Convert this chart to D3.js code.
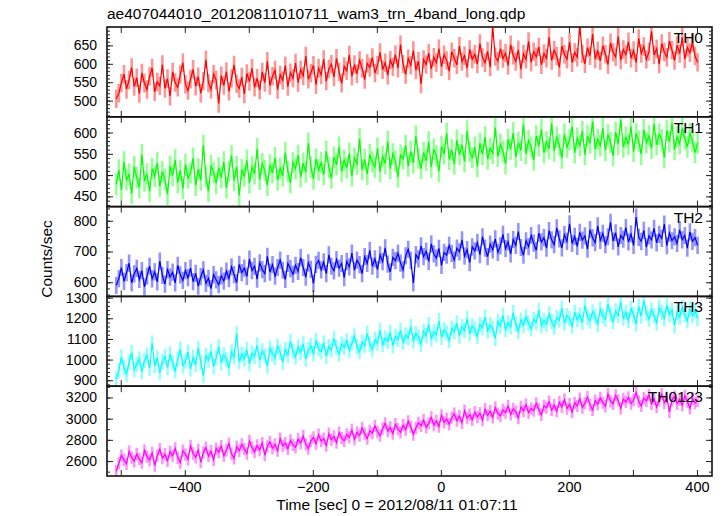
<!DOCTYPE html>
<html><head><meta charset="utf-8">
<script src="https://cdn.jsdelivr.net/npm/d3@7"></script>
<style>body{margin:0;background:#fff} text{font-family:"Liberation Sans",Arial,Helvetica,sans-serif;fill:#000}</style>
</head><body><svg id="c" width="723" height="516"></svg>
<script>
const chartTitle = "ae407044010_20120811010711_wam3_trn_4band_long.qdp";
const xLabel = "Time [sec] 0 = 2012/08/11 01:07:11";
const yLabel = "Counts/sec";
const bandNames = ["TH0", "TH1", "TH2", "TH3", "TH0123"];
const bandColors = ["#ff0000", "#00ff00", "#0000ff", "#00ffff", "#ff00ff"];
const timeStart = -507, binSize = 4;

const th0 = [505,520,548,572,531,556,590,538,562,519,
 575,547,530,566,589,524,551,540,598,533,
 560,512,578,549,536,571,603,544,527,558,
 585,539,565,520,553,611,548,530,572,556,
 492,568,541,579,525,560,597,546,533,564,
 518,574,552,588,536,561,529,578,549,607,
 541,566,583,530,570,555,595,538,576,561,
 602,549,584,567,621,558,575,596,543,588,
 570,612,553,586,599,564,615,578,547,593,
 581,624,566,598,573,609,588,557,601,590,
 617,575,596,631,584,603,569,610,592,625,
 588,652,599,571,614,596,636,583,607,545,
 612,598,629,586,618,603,641,592,625,609,
 580,633,615,597,648,606,622,588,639,612,
 626,599,655,617,603,634,591,698,620,607,
 641,614,629,595,652,623,606,638,585,627,
 612,661,604,633,619,646,597,628,615,672,
 609,637,621,590,648,626,612,659,603,631,
 618,702,627,600,644,622,681,613,635,608,
 649,626,598,657,631,619,674,610,639,625,
 660,615,636,603,669,628,647,612,633,688,
 624,641,599,655,632,618,662,637,609,650,
 628,672,613,644,630,658,621,604];

const th1 = [478,512,465,531,489,502,457,520,494,471,
 548,486,503,462,515,497,529,474,508,490,
 455,521,499,536,482,511,468,525,493,505,
 540,476,514,488,570,497,462,523,506,481,
 517,494,531,470,509,546,487,520,452,513,
 498,535,481,519,503,562,490,527,511,476,
 524,505,541,488,516,498,553,509,482,530,
 515,547,496,528,507,575,519,491,538,512,
 529,501,556,518,493,542,524,566,509,535,
 517,551,498,540,526,585,513,537,502,548,
 531,519,563,508,544,527,579,515,550,533,
 496,547,538,570,521,556,529,592,540,515,
 553,534,578,519,561,545,509,567,550,598,
 537,559,526,582,548,571,532,604,555,541,
 566,520,575,549,590,538,563,551,612,544,
 572,556,527,584,561,599,543,576,558,619,
 550,581,566,535,592,569,607,553,578,562,
 621,557,589,571,540,596,565,583,614,552,
 587,570,603,548,592,575,626,561,584,569,
 610,558,595,577,545,601,573,630,566,589,
 572,614,555,598,580,549,607,576,592,563,
 620,571,596,583,541,605,578,622,560,590,
 574,611,585,566,598,580,553,575];

const th2 = [590,612,648,603,631,662,598,627,645,609,
 638,585,620,652,611,634,601,669,622,594,
 641,617,633,598,655,624,606,638,615,646,
 602,629,587,618,640,596,613,579,625,608,
 592,621,604,636,612,650,625,599,658,631,
 646,619,675,638,652,610,663,641,628,684,
 633,657,620,648,672,639,609,661,644,626,
 655,635,680,648,617,663,642,596,658,671,
 640,666,628,689,652,637,674,646,661,615,
 668,650,695,639,672,657,628,683,661,704,
 652,676,641,689,667,712,659,634,681,670,
 695,662,640,686,707,671,598,690,676,718,
 683,701,668,725,692,679,710,655,697,688,
 720,694,672,711,699,738,685,706,664,715,
 702,729,690,748,711,683,724,705,741,697,
 718,756,709,731,692,739,720,765,713,688,
 735,716,752,727,704,760,731,745,711,768,
 738,722,777,741,712,755,733,790,726,749,
 717,762,737,751,708,771,744,729,783,736,
 759,722,748,795,734,761,715,752,740,778,
 731,757,720,812,746,733,769,714,751,738,
 775,728,756,743,789,719,760,735,748,726,
 770,738,752,711,764,733,745,720];

const th3 = [905,948,1012,962,930,987,1034,951,978,1003,
 940,996,1021,958,1080,972,1008,937,989,1015,
 961,1027,984,945,1002,1049,970,993,1036,955,
 1011,976,1054,988,922,1019,997,1040,967,1008,
 1062,985,1023,1001,958,1037,1013,1125,990,1026,
 1004,1047,979,1031,1015,1070,996,1042,1018,968,
 1055,1027,1009,1064,1036,987,1049,1022,1088,1041,
 1013,1061,1035,1076,1002,1048,1067,1029,1093,1052,
 1039,1081,1017,1064,1047,1102,1058,1026,1075,1060,
 1091,1044,1078,1115,1062,1038,1085,1069,1127,1074,
 1051,1096,1080,1143,1072,1104,1088,1132,1067,1112,
 1098,1141,1083,1119,1105,1160,1091,1126,1110,1074,
 1137,1115,1169,1102,1133,1121,1188,1108,1145,1129,
 1092,1152,1136,1177,1114,1160,1140,1198,1125,1163,
 1147,1112,1171,1155,1206,1138,1168,1150,1101,1185,
 1162,1214,1145,1179,1158,1227,1170,1136,1191,1166,
 1208,1175,1149,1196,1180,1238,1164,1190,1172,1221,
 1185,1157,1204,1191,1249,1176,1213,1198,1162,1230,
 1193,1217,1180,1262,1205,1188,1231,1209,1170,1244,
 1211,1196,1268,1220,1183,1236,1214,1280,1201,1229,
 1190,1247,1218,1173,1256,1209,1286,1225,1197,1241,
 1213,1178,1252,1230,1199,1264,1217,1240,1165,1228,
 1206,1253,1219,1187,1245,1214,1236,1200];

const th0123 = [2505,2580,2652,2611,2574,2690,2633,2598,2667,2620,
 2585,2701,2642,2609,2676,2558,2649,2712,2627,2664,
 2603,2688,2651,2720,2630,2585,2697,2662,2616,2743,
 2671,2634,2705,2589,2680,2726,2647,2693,2612,2718,
 2683,2741,2650,2702,2765,2669,2625,2734,2697,2756,
 2712,2671,2789,2728,2684,2747,2703,2770,2655,2739,
 2781,2720,2756,2698,2812,2743,2769,2716,2795,2752,
 2729,2806,2770,2835,2758,2717,2791,2823,2764,2849,
 2787,2812,2746,2858,2801,2833,2775,2869,2817,2790,
 2852,2826,2893,2805,2871,2840,2912,2858,2812,2887,
 2864,2931,2876,2840,2905,2956,2883,2918,2859,2947,
 2902,2871,2938,2896,2975,2923,2850,2914,2961,2932,
 2986,2917,2955,3012,2940,2978,2925,3031,2964,2997,
 2948,3009,3046,2982,3023,2961,3075,3004,3038,2989,
 3061,3015,3052,2986,3089,3033,3070,3012,3104,3048,
 3027,3083,3056,3118,3040,3092,3065,3007,3110,3072,
 3131,3058,3097,3075,3144,3089,3036,3121,3103,3160,
 3082,3127,3070,3155,3112,3178,3095,3136,3061,3149,
 3120,3188,3105,3146,3203,3128,3082,3170,3137,3195,
 3151,3117,3232,3164,3140,3219,3172,3098,3185,3158,
 3201,3143,3176,3247,3162,3120,3193,3168,3224,3139,
 3186,3109,3172,3230,3150,3197,3064,3175,3208,3141,
 3183,3126,3215,3160,3098,3190,3147,3168];

const bandValues = [th0, th1, th2, th3, th0123];
const bandErrors = [25, 25, 28, 37, 58];
const yDomains = [[456, 700], [426, 637], [554, 846], [871, 1306], [2459, 3306]];
const yTickValues = [[500, 550, 600, 650], [450, 500, 550, 600], [600, 700, 800], [900, 1000, 1100, 1200, 1300], [2600, 2800, 3000, 3200]];
const yMinorSteps = [10, 10, 20, 20, 100];
const xDomain = [-521.5, 423.5];
const xMajorTicks = [-500, -400, -300, -200, -100, 0, 100, 200, 300, 400];
const xLabelTicks = [-400, -200, 0, 200, 400];

const svg = d3.select("#c");
const plotLeft = 107, plotRight = 712, plotTop = 27, plotBottom = 476;
const nP = bandNames.length;
const pH = (plotBottom - plotTop) / nP;
const x = d3.scaleLinear().domain(xDomain).range([plotLeft, plotRight]);
const fmt = d3.format("");

svg.append("text").attr("x", 107).attr("y", 18.5).attr("font-size", 15.5).text(chartTitle);

bandNames.forEach((name, p) => {
  const y0 = plotTop + p * pH, y1 = y0 + pH;
  const y = d3.scaleLinear().domain(yDomains[p]).range([y1, y0]);
  const g = svg.append("g");
  const cid = "clip" + p;
  svg.append("clipPath").attr("id", cid).append("rect")
    .attr("x", plotLeft).attr("y", y0).attr("width", plotRight - plotLeft).attr("height", pH);
  const data = bandValues[p].map((v, i) => ({t: timeStart + i * binSize, v}));
  const err = bandErrors[p];
  const dg = g.append("g").attr("clip-path", `url(#${cid})`);
  dg.selectAll("line.eb").data(data).enter().append("line")
    .attr("x1", d => x(d.t)).attr("x2", d => x(d.t))
    .attr("y1", d => y(d.v - err)).attr("y2", d => y(d.v + err))
    .attr("stroke", bandColors[p]).attr("stroke-opacity", 0.42).attr("stroke-width", 2.6);
  dg.append("path").datum(data)
    .attr("d", d3.line().x(d => x(d.t)).y(d => y(d.v)))
    .attr("fill", "none").attr("stroke", bandColors[p]).attr("stroke-width", 1.2);

  g.append("rect").attr("x", plotLeft).attr("y", y0).attr("width", plotRight - plotLeft).attr("height", pH)
    .attr("fill", "none").attr("stroke", "#111").attr("stroke-width", 1.6);

  const minor = d3.range(Math.ceil(yDomains[p][0] / yMinorSteps[p]) * yMinorSteps[p], yDomains[p][1] + 0.001, yMinorSteps[p]);
  const gl = g.append("g").attr("transform", `translate(${plotLeft},0)`)
    .call(d3.axisLeft(y).tickValues(minor).tickSize(-3).tickFormat(""));
  const gr = g.append("g").attr("transform", `translate(${plotRight},0)`)
    .call(d3.axisRight(y).tickValues(minor).tickSize(-3).tickFormat(""));
  const gl2 = g.append("g").attr("transform", `translate(${plotLeft},0)`)
    .call(d3.axisLeft(y).tickValues(yTickValues[p]).tickSize(-6).tickPadding(10).tickFormat(fmt));
  const gr2 = g.append("g").attr("transform", `translate(${plotRight},0)`)
    .call(d3.axisRight(y).tickValues(yTickValues[p]).tickSize(-6).tickFormat(""));
  [gl, gr, gl2, gr2].forEach(a => { a.select(".domain").remove(); a.selectAll("line").attr("stroke", "#222"); });
  gl2.selectAll("text").attr("font-size", 14).attr("font-family", null).attr("fill", "#000");

  const gb = g.append("g").attr("transform", `translate(0,${y1})`)
    .call(d3.axisBottom(x).tickValues(xMajorTicks).tickSize(-6).tickFormat(""));
  const gt = g.append("g").attr("transform", `translate(0,${y0})`)
    .call(d3.axisTop(x).tickValues(xMajorTicks).tickSize(-6).tickFormat(""));
  [gb, gt].forEach(a => { a.select(".domain").remove(); a.selectAll("line").attr("stroke", "#222"); });

  g.append("text").attr("x", 703).attr("y", y0 + 16).attr("text-anchor", "end")
    .attr("font-size", 15.5).text(name);
});

const xb = svg.append("g").attr("transform", `translate(0,${plotBottom})`)
  .call(d3.axisBottom(x).tickValues(xLabelTicks).tickSize(0).tickPadding(6).tickFormat(fmt));
xb.select(".domain").remove();
xb.selectAll("text").attr("font-size", 14.5).attr("font-family", null).attr("fill", "#000");

svg.append("text").attr("x", 397).attr("y", 510).attr("text-anchor", "middle")
  .attr("font-size", 15.5).text(xLabel);
svg.append("text").attr("transform", "translate(52,259) rotate(-90)").attr("text-anchor", "middle")
  .attr("font-size", 15.5).text(yLabel);
</script></body></html>
